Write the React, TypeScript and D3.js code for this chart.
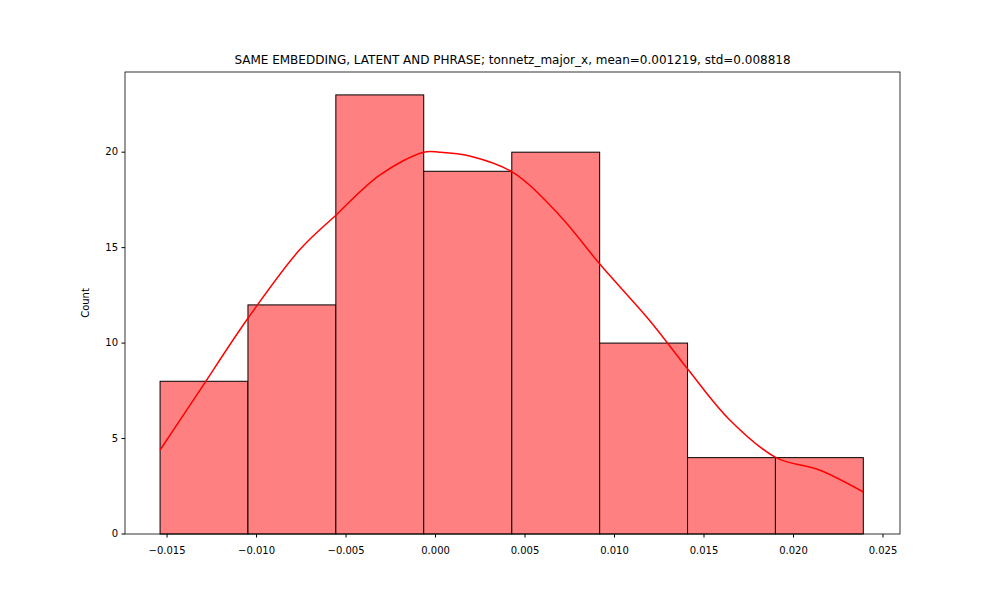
import React from 'react';
import * as d3 from 'd3';

const binEdges = [-0.01539, -0.01048, -0.00557, -0.00066, 0.00426, 0.00917, 0.01408, 0.01899, 0.02390];
const counts = [8, 12, 23, 19, 20, 10, 4, 4];
const kdeX = [-0.01539, -0.01316, -0.01048, -0.00758, -0.00557, -0.00312, -0.00066, 0.00023, 0.0019, 0.0043, 0.00692, 0.00921, 0.01195, 0.01412, 0.01641, 0.01903, 0.02144, 0.0239];
const kdeY = [4.4, 7.54, 11.3, 14.9, 16.7, 18.8, 20.0, 20.0, 19.8, 18.95, 16.7, 14.1, 11.2, 8.6, 6.0, 4.0, 3.35, 2.2];
const xTicks = [-0.015, -0.01, -0.005, 0, 0.005, 0.01, 0.015, 0.02, 0.025];
const yTicks = [0, 5, 10, 15, 20];
const title = 'SAME EMBEDDING, LATENT AND PHRASE; tonnetz_major_x, mean=0.001219, std=0.008818';

export default function App() {
  const m = { left: 125, right: 900, top: 72, bottom: 534 };
  const x = d3.scaleLinear().domain([-0.01735, 0.02595]).range([m.left, m.right]);
  const y = d3.scaleLinear().domain([0, 24.2]).range([m.bottom, m.top]);
  const line = d3.line<number>().x((_, i) => x(kdeX[i])).y(d => y(d)).curve(d3.curveCatmullRom);
  const font = 'DejaVu Sans, sans-serif';
  return (
    <svg width={1000} height={600} style={{ position: 'absolute', left: 0, top: 0, fontFamily: font }}>
      <rect width={1000} height={600} fill="#fff" />
      {counts.map((c, i) => (
        <rect key={i} x={x(binEdges[i])} y={y(c)} width={x(binEdges[i + 1]) - x(binEdges[i])}
          height={y(0) - y(c)} fill="#ff8080" stroke="#000" strokeWidth={1} />
      ))}
      <path d={line(kdeY) || ''} fill="none" stroke="#ff0000" strokeWidth={1.5} />
      <rect x={m.left} y={m.top} width={m.right - m.left} height={m.bottom - m.top} fill="none" stroke="#000" strokeWidth={0.8} />
      {xTicks.map(t => (
        <g key={t} transform={`translate(${x(t)},${m.bottom})`}>
          <line y2={3.5} stroke="#000" />
          <text y={17} textAnchor="middle" fontSize={10} dominantBaseline="middle">{d3.format('.3f')(t).replace('-', '−')}</text>
        </g>
      ))}
      {yTicks.map(t => (
        <g key={t} transform={`translate(${m.left},${y(t)})`}>
          <line x2={-3.5} stroke="#000" />
          <text x={-7} textAnchor="end" fontSize={10} dominantBaseline="middle">{t}</text>
        </g>
      ))}
      <text transform={`translate(89,${(m.top + m.bottom) / 2}) rotate(-90)`} textAnchor="middle" fontSize={10}>Count</text>
      <text x={(m.left + m.right) / 2} y={64} textAnchor="middle" fontSize={12}>{title}</text>
    </svg>
  );
}
